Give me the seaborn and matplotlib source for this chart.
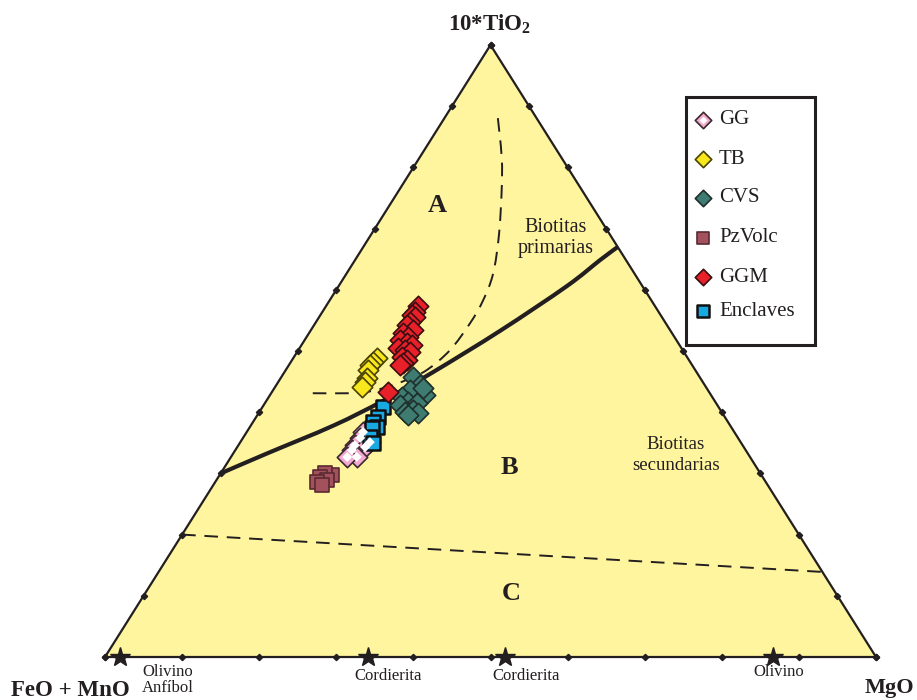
import numpy as np
import matplotlib
matplotlib.use("Agg")
import matplotlib.pyplot as plt
import seaborn as sns
from matplotlib.patches import Polygon, Rectangle, PathPatch
from matplotlib.path import Path

sns.set_theme(style="white")
plt.rcParams['font.family'] = ['Liberation Serif', 'DejaVu Serif']
plt.rcParams['mathtext.fontset'] = 'custom'
plt.rcParams['mathtext.rm'] = 'Liberation Serif'
plt.rcParams['mathtext.bf'] = 'Liberation Serif:bold'

# ---- compositions (FeO+MnO, MgO, 10*TiO2), normalised to 100 ----
ggm_fe = [30.7, 31.6, 32.2, 32.0, 33.1, 33.7, 33.3, 34.9, 34.5, 35.8, 35.2, 34.7, 36.8, 36.0, 35.5, 37.0, 36.6, 37.3, 37.9, 41.6]
ggm_mg = [11.9, 12.0, 11.9, 12.4, 12.2, 12.0, 13.2, 12.2, 13.2, 12.4, 13.5, 14.3, 12.8, 13.8, 14.6, 14.0, 14.9, 14.6, 14.4, 15.1]
ggm_ti = [57.4, 56.4, 55.9, 55.6, 54.7, 54.3, 53.5, 52.9, 52.3, 51.8, 51.3, 51.0, 50.5, 50.2, 49.8, 49.0, 48.5, 48.0, 47.7, 43.3]

tb_fe = [40.3, 41.1, 41.8, 42.4, 43.2, 43.8, 44.6]
tb_mg = [10.9, 10.7, 10.5, 10.7, 11.2, 11.3, 11.3]
tb_ti = [48.9, 48.2, 47.7, 46.9, 45.6, 44.9, 44.1]

cvs_fe = [37.2, 36.9, 38.6, 37.1, 40.2, 39.9, 38.8, 41.2, 41.1, 39.9, 39.5, 40.9, 36.8]
cvs_mg = [17.1, 18.6, 17.8, 20.1, 17.3, 18.5, 19.7, 17.7, 18.9, 19.8, 20.7, 19.5, 19.3]
cvs_ti = [45.8, 44.4, 43.6, 42.8, 42.5, 41.7, 41.5, 41.2, 40.0, 40.4, 39.9, 39.5, 44.0]

enc_fe = [43.5, 45.0, 46.0, 45.9, 46.7, 47.6, 47.7]
enc_mg = [15.6, 15.8, 15.6, 16.5, 15.9, 16.4, 17.3]
enc_ti = [40.8, 39.2, 38.4, 37.6, 37.4, 35.9, 35.0]

gg_fe = [48.2, 49.0, 48.1, 50.3, 49.1, 51.1, 51.0, 52.3]
gg_mg = [15.1, 15.2, 16.8, 15.1, 16.6, 15.1, 16.3, 15.1]
gg_ti = [36.8, 35.8, 35.1, 34.6, 34.3, 33.8, 32.7, 32.7]

pz_fe = [55.7, 56.4, 57.4, 56.8, 58.2, 57.8]
pz_mg = [14.6, 13.5, 13.2, 14.3, 13.2, 14.1]
pz_ti = [29.7, 30.1, 29.4, 28.9, 28.6, 28.1]

# ---- field boundaries ----
prim_fe = [70.0, 62.4, 51.5, 43.0, 34.2, 22.1, 9.8, 3.4, 0.0]
prim_mg = [0.0, 4.4, 10.7, 15.1, 19.3, 24.6, 29.6, 31.8, 33.0]
prim_ti = [30.0, 33.3, 37.8, 41.8, 46.6, 53.3, 60.6, 64.9, 67.0]

ab_fe = [51.5, 46.3, 44.4, 41.4, 38.2, 34.8, 30.2, 25.4, 21.8, 18.3, 14.4, 10.4, 7.7, 4.5]
ab_mg = [5.4, 10.6, 12.3, 14.5, 16.5, 18.3, 19.7, 20.1, 19.9, 19.0, 16.6, 13.3, 10.6, 6.2]
ab_ti = [43.1, 43.1, 43.3, 44.1, 45.3, 46.9, 50.2, 54.6, 58.3, 62.7, 69.0, 76.3, 81.7, 89.4]

bc_fe = [80.0, 0.0]
bc_mg = [0.0, 86.1]
bc_ti = [20.0, 13.9]

# minerals on the FeO+MnO - MgO join (MgO %)
star_mg = [1.9, 34.1, 51.9, 86.7]
star_labels = ["Olivino\nAnfíbol", "Cordierita", "Cordierita", "Olivino"]

groups = ["GG", "TB", "CVS", "PzVolc", "GGM", "Enclaves"]


def tern(fe, mg, ti):
    fe, mg, ti = (np.asarray(v, float) for v in (fe, mg, ti))
    s = fe + mg + ti
    mg, ti = mg / s, ti / s
    return mg + ti / 2.0, ti


def smooth_path(x, y):
    """Cubic Bezier path passing through every (x, y) vertex (Catmull-Rom)."""
    p = np.column_stack([x, y])
    ext = np.vstack([p[0], p, p[-1]])
    verts, codes = [p[0]], [Path.MOVETO]
    for i in range(1, len(ext) - 2):
        p0, p1, p2, p3 = ext[i - 1], ext[i], ext[i + 1], ext[i + 2]
        verts += [p1 + (p2 - p0) / 6.0, p2 - (p3 - p1) / 6.0, p2]
        codes += [Path.CURVE4] * 3
    return Path(verts, codes)


# pixel frame of the triangle: left vertex (105,657), right (876,657), apex y=45
X0, XW, Y0, YH = 105.0, 771.0, 657.0, 612.0


def px(x, y):
    return (x - X0) / XW, (Y0 - y) / YH


fig = plt.figure(figsize=(9.17, 7.0), dpi=100)
ax = fig.add_axes([0, 0, 1, 1])
ax.set_xlim(-X0 / XW, (917 - X0) / XW)
ax.set_ylim((Y0 - 700) / YH, Y0 / YH)
ax.axis("off")

ink = "#231F20"
verts = np.array([[0, 0], [1, 0], [0.5, 1]])
ax.add_patch(Polygon(verts, closed=True, facecolor="#FFF59E", edgecolor=ink, lw=1.6, zorder=1))

# edge ticks every 10 %
k = np.arange(0, 11) / 10.0
for fe, mg, ti in [(1 - k, k, 0 * k), (1 - k, 0 * k, k), (0 * k, 1 - k, k)]:
    tx, ty = tern(fe, mg, ti)
    ax.plot(tx, ty, ls="none", marker="D", ms=3.2, color=ink, zorder=2)

# boundaries
x, y = tern(prim_fe, prim_mg, prim_ti)
ax.add_patch(PathPatch(smooth_path(x, y), facecolor="none", edgecolor=ink, lw=3.0,
                       capstyle="butt", zorder=3))
x, y = tern(ab_fe, ab_mg, ab_ti)
ax.add_patch(PathPatch(smooth_path(x, y), facecolor="none", edgecolor=ink, lw=1.4,
                       linestyle=(0, (7, 4.5)), zorder=3))
x, y = tern(bc_fe, bc_mg, bc_ti)
ax.plot(x, y, color=ink, lw=1.4, dashes=(7, 4.5), zorder=3)

styles = {
    "GG":       dict(marker="D", face="#F3A9D0", edge="#3a2a30"),
    "TB":       dict(marker="D", face="#F8E71C", edge="#4a4200"),
    "CVS":      dict(marker="D", face="#3E7C72", edge="#1f2f2b"),
    "PzVolc":   dict(marker="s", face="#A2515D", edge="#5a2a32"),
    "GGM":      dict(marker="D", face="#E8202A", edge="#3a0e10"),
    "Enclaves": dict(marker="s", face="#18A8E2", edge="#111111"),
}
data = {
    "PzVolc": (pz_fe, pz_mg, pz_ti),
    "GG": (gg_fe, gg_mg, gg_ti),
    "Enclaves": (enc_fe, enc_mg, enc_ti),
    "CVS": (cvs_fe, cvs_mg, cvs_ti),
    "TB": (tb_fe, tb_mg, tb_ti),
    "GGM": (ggm_fe, ggm_mg, ggm_ti),
}
for g, (fe, mg, ti) in data.items():
    st = styles[g]
    x, y = tern(fe, mg, ti)
    size = 108 if st["marker"] == "D" else 88
    lw = 1.8 if g == "Enclaves" else 1.2
    sns.scatterplot(x=x, y=y, ax=ax, marker=st["marker"], s=size, color=st["face"],
                    edgecolor=st["edge"], linewidth=lw, zorder=4, legend=False)
    if g == "GG":
        sns.scatterplot(x=x, y=y, ax=ax, marker="D", s=26, color="white",
                        edgecolor="none", linewidth=0, zorder=5, legend=False)

# mineral stars on the base
sx, sy = tern(100 - np.asarray(star_mg), star_mg, np.zeros(len(star_mg)))
ax.plot(sx, sy, ls="none", marker="*", ms=15, color=ink, zorder=6)
label_px = [(168, 680), (388, 676), (526, 676), (779, 672)]
for (lx, ly), t in zip(label_px, star_labels):
    ax.text(*px(lx, ly), t, ha="center", va="center", fontsize=12, color=ink,
            linespacing=1.05)

# vertex labels
ax.text(*px(490, 24), r"10*TiO$_\mathbf{2}$", ha="center", va="center",
        fontsize=16.5, fontweight="bold", color=ink)
ax.text(*px(70, 690), "FeO + MnO", ha="center", va="center", fontsize=16.5,
        fontweight="bold", color=ink)
ax.text(*px(889, 688), "MgO", ha="center", va="center", fontsize=16,
        fontweight="bold", color=ink)

# field labels
for t, (lx, ly) in zip(["A", "B", "C"], [(437, 205), (509, 467), (511, 593)]):
    ax.text(*px(lx, ly), t, ha="center", va="center", fontsize=19,
            fontweight="bold", color=ink)
ax.text(*px(556, 238), "Biotitas\nprimarias", ha="center", va="center",
        fontsize=14.5, color=ink, linespacing=1.2)
ax.text(*px(676, 455), "Biotitas\nsecundarias", ha="center", va="center",
        fontsize=13.5, color=ink, linespacing=1.25)

# legend box
bx0, by0 = px(686, 345)
bx1, by1 = px(815, 97)
ax.add_patch(Rectangle((bx0, by0), bx1 - bx0, by1 - by0, facecolor="white",
                       edgecolor=ink, lw=2.2, zorder=7))
leg_y = [120, 159, 198, 238, 277, 311]
for g, ly in zip(groups, leg_y):
    st = styles[g]
    mx, my = px(703, ly)
    ax.scatter([mx], [my], marker=st["marker"], s=70 if st["marker"] == "D" else 66,
               color=st["face"], edgecolor=st["edge"],
               linewidth=1.8 if g == "Enclaves" else 1.2, zorder=8)
    if g == "GG":
        ax.scatter([mx], [my], marker="D", s=16, color="white", linewidth=0, zorder=9)
    ax.text(*px(719, ly), g, ha="left", va="center", fontsize=15, color=ink, zorder=9)

fig.savefig("out.png", dpi=100)
